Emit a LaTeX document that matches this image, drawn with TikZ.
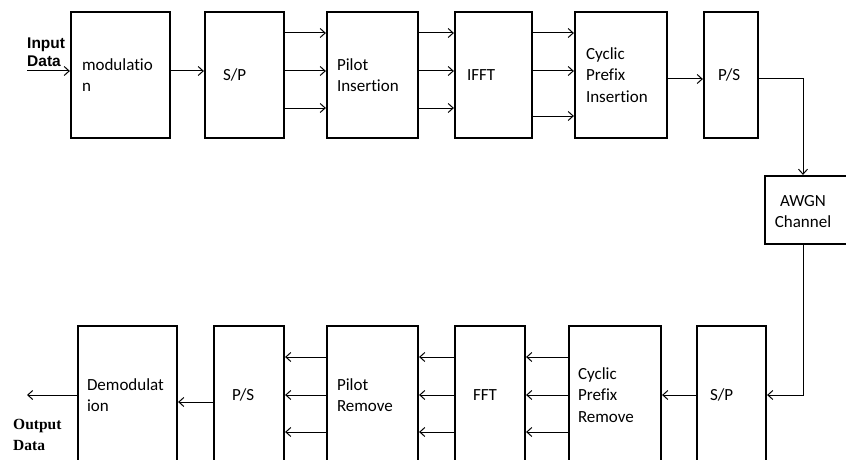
\documentclass[tikz,border=0pt]{standalone}
\usepackage{fontspec}
\usepackage{tikz}
\usetikzlibrary{arrows.meta,positioning,calc}
\newfontfamily\boxfont[Ligatures=NoCommon]{Carlito}
\newfontfamily\labsans{Liberation Sans}
\newfontfamily\labserif{Liberation Serif}
\tikzset{
  blk/.style n args={3}{draw, line width=2.2pt, align=left, inner ysep=0pt,
    text width=#1, inner xsep=#2, minimum height=#3,
    font=\boxfont\fontsize{17}{21.5}\selectfont},
  arr/.style={-{Straight Barb[length=5pt,width=9pt]}, line width=1pt}
}
\begin{document}
\begin{tikzpicture}[x=1pt, y=-1pt]
        \path[use as bounding box, clip] (0,0) rectangle (846,460);
        \node[blk={77pt}{11pt}{126pt}] (mod) at (120.5,75) {modulatio\\n};
        \node[blk={43pt}{18pt}{126pt}] (sp1) at (244.5,75) {S/P};
        \node[blk={71pt}{10pt}{126pt}] (pil) at (372.5,75) {Pilot\\Insertion};
        \node[blk={53pt}{12pt}{126pt}] (ifft) at (493.5,75) {IFFT};
        \node[blk={70pt}{11pt}{126pt}] (cpi) at (621,75) {Cyclic\\Prefix\\Insertion};
        \node[blk={26pt}{14pt}{126pt}] (ps1) at (731,75) {P/S};
        \node[draw, line width=2.2pt, minimum width=87pt, minimum height=68pt,
          label={[xshift=-5.5pt, yshift=-2pt, align=center,
            font=\boxfont\fontsize{17}{21}\selectfont]center:AWGN\\Channel}] (awgn) at (808.5,210) {};
        \node[blk={81pt}{9pt}{138pt}] (demod) at (127.5,395) {Demodulat\\ion};
        \node[blk={34pt}{18pt}{138pt}] (ps2) at (249,395) {P/S};
        \node[blk={71pt}{10pt}{138pt}] (pilr) at (372.5,395) {Pilot\\Remove};
        \node[blk={34pt}{18pt}{138pt}] (fft) at (490,395) {FFT};
        \node[blk={74pt}{9pt}{138pt}] (cpr) at (615,395) {Cyclic\\Prefix\\Remove};
        \node[blk={43pt}{13pt}{138pt}] (sp2) at (731.5,395) {S/P};
        \coordinate (in) at (27,71);
        \coordinate (out) at (27,395);
        \node[anchor=west, inner sep=0pt, align=left,
          font=\labsans\bfseries\fontsize{15.5}{18.5}\selectfont] (inlbl) at (27,52) {Input\\Data};
        \node[anchor=west, inner sep=0pt, align=left,
          font=\labserif\bfseries\fontsize{15.5}{20.5}\selectfont] (outlbl) at (13,435) {Output\\Data};
        \draw[arr] (in) -- (mod.west |- in);
        \draw[arr] (mod.east |- 0,71) -- (sp1.west |- 0,71);
        \foreach \y in {33,71,108} {
          \draw[arr] (sp1.east |- 0,\y) -- (pil.west |- 0,\y);
          \draw[arr] (pil.east |- 0,\y) -- (ifft.west |- 0,\y);
        }
        \foreach \y in {33,71,116}
          \draw[arr] (ifft.east |- 0,\y) -- (cpi.west |- 0,\y);
        \draw[arr] (cpi.east |- 0,79) -- (ps1.west |- 0,79);
        \draw[arr] (ps1.east |- 0,79) -| ([xshift=-5.5pt]awgn.north);
        \draw[arr] ([xshift=-5.5pt]awgn.south) |- (sp2.east);
        \draw[arr] (sp2.west) -- (cpr.east);
        \foreach \y in {357,395,432} {
          \draw[arr] (cpr.west |- 0,\y) -- (fft.east |- 0,\y);
          \draw[arr] (fft.west |- 0,\y) -- (pilr.east |- 0,\y);
          \draw[arr] (pilr.west |- 0,\y) -- (ps2.east |- 0,\y);
        }
        \draw[arr] (ps2.west |- 0,402) -- (demod.east |- 0,402);
        \draw[arr] (demod.west) -- (out);
      \end{tikzpicture}
\end{document}
